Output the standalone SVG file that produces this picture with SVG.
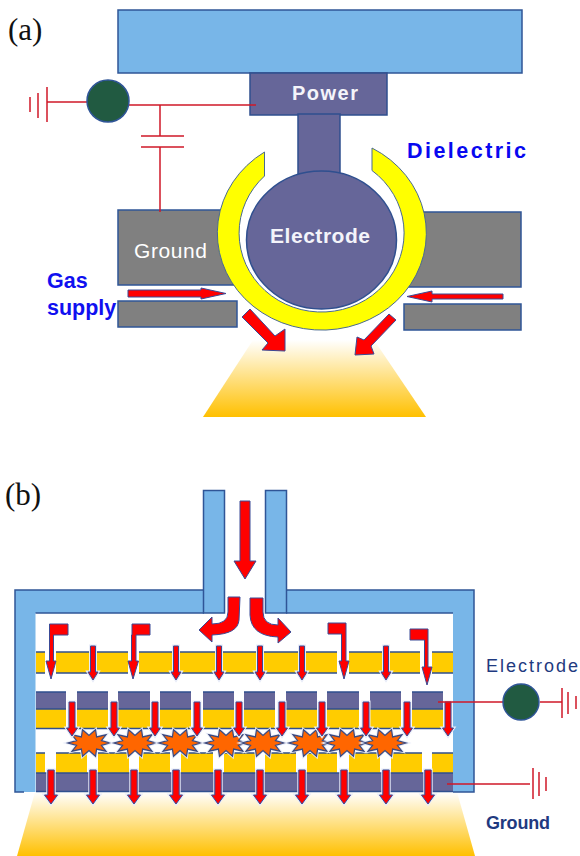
<svg xmlns="http://www.w3.org/2000/svg" xmlns:xlink="http://www.w3.org/1999/xlink" width="580" height="856" viewBox="0 0 580 856">
<style>
.blue{fill:#78b6e8;stroke:#2f5597;stroke-width:1.5}
.bluefill{fill:#78b6e8}
.edge{fill:none;stroke:#2f5597;stroke-width:1.5}
.purple{fill:#666699;stroke:#2f4f8f;stroke-width:1.5}
.grey{fill:#808080;stroke:#2f5597;stroke-width:1.5}
.gold{fill:#ffcc00}
.rowline{stroke:#2f4f8f;stroke-width:1.5;fill:none}
.wire{stroke:#d01828;stroke-width:1.5;fill:none}
.src{fill:#215a41;stroke:#2f5597;stroke-width:1.5}
.arr{fill:#ff0000;stroke:#3a4a96;stroke-width:1;stroke-linejoin:miter}
.halo{fill:none;stroke:#e8ecf8;stroke-width:3}
.star{fill:#ff6600;stroke:#3a4a80;stroke-width:1.2}
.serif{font-family:"Liberation Serif","Times New Roman",serif;font-size:31px;fill:#111}
.wb{font-family:"Liberation Sans",Arial,sans-serif;font-size:20px;font-weight:700;fill:#f4f4fa}
.bb{font-family:"Liberation Sans",Arial,sans-serif;font-size:21.500px;font-weight:700;fill:#1010f0}
.nv{font-family:"Liberation Sans",Arial,sans-serif;font-size:18px;fill:#1f3a80}
</style>
<defs>
<linearGradient id="plume" x1="0" y1="0" x2="0" y2="1"><stop offset="0" stop-color="#ffffff"/><stop offset="1" stop-color="#ffc000"/></linearGradient>
<path id="a1s" d="M-2.500,0H2.500V26H5L0,34L-5,26H-2.500Z"/>
<g id="a1"><use xlink:href="#a1s" class="halo"/><use xlink:href="#a1s" class="arr"/></g>
<path id="a2s" d="M-3,0H3V26H5.500L0,34L-5.500,26H-3Z"/>
<g id="a2"><use xlink:href="#a2s" class="halo"/><use xlink:href="#a2s" class="arr"/></g>
<path id="a3s" d="M-3.200,0H3.200V25H6.500L0,34L-6.500,25H-3.200Z"/>
<g id="a3"><use xlink:href="#a3s" class="halo"/><use xlink:href="#a3s" class="arr"/></g>
<polygon id="sts" points="21,0 12.400,2.300 17,8.200 7.600,6.100 6.500,13.300 0,7.500 -6.500,13.300 -7.600,6.100 -17,8.200 -12.400,2.300 -21,0 -12.400,-2.300 -17,-8.200 -7.600,-6.100 -6.500,-13.300 0,-7.500 6.500,-13.300 7.600,-6.100 17,-8.200 12.400,-2.300"/>
<g id="st"><use xlink:href="#sts" class="halo"/><use xlink:href="#sts" class="star"/></g>
</defs>
<rect width="580" height="856" fill="#ffffff"/>

<text class="serif" x="8" y="40">(a)</text>
<g id="plume-a"><polygon points="253,340 374,340 426,417 203,417" fill="url(#plume)"/></g>
<g id="top-block"><rect class="blue" x="118" y="10" width="404" height="63"/></g>
<g id="ground-a">
<rect class="grey" x="118" y="210" width="120" height="75"/>
<rect class="grey" x="405" y="212" width="116" height="75"/>
<rect class="grey" x="118" y="301" width="119" height="26"/>
<rect class="grey" x="404" y="304" width="117" height="26"/>
<text class="wb" style="font-size:21px;font-weight:400;fill:#ffffff" x="134" y="258" textLength="73" lengthAdjust="spacing">Ground</text>
</g>
<g id="power">
<rect class="purple" x="250" y="73" width="137" height="42"/>
<rect class="purple" x="298" y="114" width="42" height="62"/>
<text class="wb" x="292" y="100" textLength="66" lengthAdjust="spacing">Power</text>
</g>
<g id="dielectric">
<path d="M372,148A104.500,97 0 1 1 264.500,152L264.500,176A82.500,79 0 1 0 372,170.500Z" fill="#ffff00" stroke="#4a6a90" stroke-width="1"/>
<text class="bb" style="fill:#0808f0" x="407" y="158" textLength="119" lengthAdjust="spacing">Dielectric</text>
</g>
<g id="electrode">
<ellipse class="purple" cx="321.500" cy="240" rx="75" ry="69"/>
<text class="wb" style="font-size:21px" x="270" y="243" textLength="100" lengthAdjust="spacing">Electrode</text>
</g>
<g id="gas-supply">
<text class="bb" x="47" y="288">Gas</text>
<text class="bb" x="47" y="315">supply</text>
</g>
<g id="connectors-a">
<path class="arr" d="M128,290H201V288L226,293.500L201,299V297H128Z"/>
<path class="arr" d="M503,294H432V291L407,296.500L432,302V299H503Z"/>
<path class="arr" d="M250,309L275,336L285,329V351L262,350L268,343L242,317Z"/>
<path class="arr" d="M389,314L396,320L371,346L374,354L355,355L357,337L364,340Z"/>
<path class="wire" d="M47,102H87M47,87V122M38,93V118M30,97V112M129,105H256M160,105V136M141,136H184M141,147H184M160,147V212"/>
</g>
<g id="source-a"><circle class="src" cx="108" cy="101" r="21"/></g>

<text class="serif" x="5" y="505">(b)</text>
<g id="plume-b"><polygon points="35,792 457,792 475,856 17,856" fill="url(#plume)"/></g>
<g id="housing">
<path class="bluefill" d="M15,792V590H204V613H35.500V792Z"/>
<path class="bluefill" d="M286,590H474V792H453V613H286Z"/>
<path class="edge" d="M24,792H15V590H204M35.500,613H204M286,590H474V792H453M286,613H453"/>
<rect class="blue" x="203.500" y="490.500" width="21" height="122.500"/>
<rect class="blue" x="265.500" y="490.500" width="21" height="122.500"/>
</g>
<g id="plate-1">
<path class="gold" d="M36,652H45V673H36ZM56,652H128V673H56ZM139,652H337V673H139ZM349,652H420V673H349ZM432,652H453V673H432Z"/>
<path class="rowline" d="M36,652H45M56,652H128M139,652H337M349,652H420M432,652H453M36,673H45M56,673H128M139,673H337M349,673H420M432,673H453"/>
</g>
<g id="plate-2">
<path fill="#666699" d="M36,692H66V709H36ZM77,692H108V709H77ZM118,692H150V709H118ZM160,692H191V709H160ZM203,692H234V709H203ZM244,692H275V709H244ZM286,692H317V709H286ZM327,692H359V709H327ZM370,692H401V709H370ZM412,692H443V709H412Z"/>
<path class="gold" d="M36,709H66V728H36ZM77,709H108V728H77ZM118,709H150V728H118ZM160,709H191V728H160ZM203,709H234V728H203ZM244,709H275V728H244ZM286,709H317V728H286ZM327,709H359V728H327ZM370,709H401V728H370ZM412,709H443V728H412Z"/>
<path class="rowline" d="M36,692H66M77,692H108M118,692H150M160,692H191M203,692H234M244,692H275M286,692H317M327,692H359M370,692H401M412,692H443M36,709H66M77,709H108M118,709H150M160,709H191M203,709H234M244,709H275M286,709H317M327,709H359M370,709H401M412,709H443M36,728.500H453"/>
</g>
<g id="plate-3">
<path class="gold" d="M36,753H45V773H36ZM56,753H87V773H56ZM98,753H129V773H98ZM139,753H170V773H139ZM181,753H213V773H181ZM224,753H255V773H224ZM265,753H296V773H265ZM307,753H337V773H307ZM349,753H380V773H349ZM391,753H422V773H391ZM432,753H453V773H432Z"/>
<rect x="36" y="773" width="417" height="18" fill="#666699"/>
<path class="rowline" d="M36,753H45M56,753H87M98,753H129M139,753H170M181,753H213M224,753H255M265,753H296M307,753H337M349,753H380M391,753H422M432,753H453M36,773H453M36,791.500H453"/>
</g>
<g id="discharges">
<use xlink:href="#st" x="89" y="743"/>
<use xlink:href="#st" x="135" y="743"/>
<use xlink:href="#st" x="180" y="743"/>
<use xlink:href="#st" x="226" y="743"/>
<use xlink:href="#st" x="263" y="743"/>
<use xlink:href="#st" x="310" y="743"/>
<use xlink:href="#st" x="347" y="743"/>
<use xlink:href="#st" x="385" y="743"/>
</g>
<g id="connectors-b">
<path class="arr" d="M240,501H250V561H256L245,579L234,561H240Z"/>
<path class="arr" d="M228,597H240L239,620Q238,634 212,635V642L199,630L212,617V624Q228,624 228,612Z"/>
<path class="arr" d="M250,598H263V612Q263,625 278,625V618L291,632L278,643V637Q251,636 250,615Z"/>
<path class="arr" d="M50,624H68V635H53.500V661H56L51,679L46,661H49.500V624Z"/>
<path class="arr" d="M132,624H150V635H136V661H138.500L133,679L128,661H131.500V635H132Z"/>
<path class="arr" d="M328,623H346V661H349L344,679L339,661H341.500V634H328Z"/>
<path class="arr" d="M410,629H428V667H432L427,685L422,667H424.500V640H410Z"/>
<use xlink:href="#a1" x="93" y="646"/>
<use xlink:href="#a1" x="176" y="646"/>
<use xlink:href="#a1" x="219" y="646"/>
<use xlink:href="#a1" x="260" y="646"/>
<use xlink:href="#a1" x="302" y="646"/>
<use xlink:href="#a1" x="386" y="646"/>
<use xlink:href="#a2" x="72" y="702"/>
<use xlink:href="#a2" x="114" y="702"/>
<use xlink:href="#a2" x="155" y="702"/>
<use xlink:href="#a2" x="197" y="702"/>
<use xlink:href="#a2" x="239" y="702"/>
<use xlink:href="#a2" x="282" y="702"/>
<use xlink:href="#a2" x="322" y="702"/>
<use xlink:href="#a2" x="366" y="702"/>
<use xlink:href="#a2" x="407" y="702"/>
<use xlink:href="#a2" x="448" y="702"/>
<use xlink:href="#a3" x="51" y="770"/>
<use xlink:href="#a3" x="93" y="770"/>
<use xlink:href="#a3" x="134" y="770"/>
<use xlink:href="#a3" x="176" y="770"/>
<use xlink:href="#a3" x="218" y="770"/>
<use xlink:href="#a3" x="260" y="770"/>
<use xlink:href="#a3" x="302" y="770"/>
<use xlink:href="#a3" x="344" y="770"/>
<use xlink:href="#a3" x="386" y="770"/>
<use xlink:href="#a3" x="428" y="770"/>
<path class="wire" d="M438,702H503M540,702H562M562,688V718M568,692V714M576,696V709M447,784H530M533,768V799M539,772V796M546,777V791"/>
</g>
<g id="source-b"><circle class="src" cx="521" cy="702" r="18"/></g>
<g id="labels-b">
<text class="nv" x="486" y="672" textLength="92" lengthAdjust="spacing">Electrode</text>
<text class="nv" style="font-weight:700" x="486" y="829" textLength="64" lengthAdjust="spacing">Ground</text>
</g>
</svg>
